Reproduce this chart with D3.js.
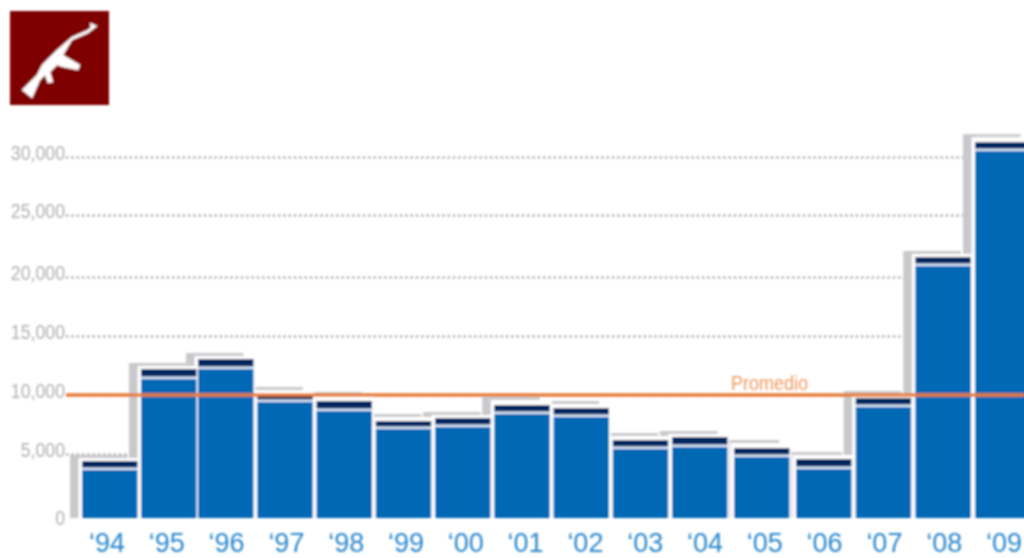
<!DOCTYPE html>
<html><head><meta charset="utf-8">
<style>html,body{margin:0;padding:0;background:#fff;overflow:hidden}svg{display:block}</style>
<script src="https://cdn.jsdelivr.net/npm/d3@7"></script></head>
<body><svg id="c" width="1024" height="558"></svg>
<script>
const years = ["‘94","‘95","‘96","‘97","‘98","‘99","‘00","‘01","‘02","‘03","‘04","‘05","‘06","‘07","‘08","‘09"];
const blueValues = [3750,11356,12203,9407,8644,7119,7288,8390,8136,5424,5593,4766,3828,8983,20887,30517];
const navyValues = [4450,12203,13051,10000,9492,7797,8051,9153,8898,6186,6441,5508,4609,9746,21613,31293];
const grayValues = [4920,12712,13559,10678,10254,8390,8559,9831,9492,6780,6949,6186,5169,10339,22097,31983];
const tickValues = [0,5000,10000,15000,20000,25000,30000];
const average = 10000;
const averageLabel = "Promedio";

const svg = d3.select("#c");
const defs = svg.append("defs");
defs.append("filter").attr("id","soft").attr("filterUnits","userSpaceOnUse").attr("x",0).attr("y",0).attr("width",1024).attr("height",558)
  .append("feGaussianBlur").attr("stdDeviation",0.95);
const root = svg.append("g").attr("filter","url(#soft)");

// the source's bars are not evenly spaced: the scale follows the columns
const xi = d3.scaleLinear().domain([0,1,2,10,11,12,15]).range([82,141,198,672,734,796,975]);
const x = d => xi(years.indexOf(d));
const barW = 55.5;
const xLabel = d3.scalePoint().domain(years).range([107,1004]);
const y = d3.scaleLinear().domain([0,5000,15000,20000,25000,30000,32000]).range([518,454,336,277,215,157,134]);

// y axis with dotted grid lines
const axis = d3.axisLeft(y).tickValues(tickValues).tickFormat(d3.format(",")).tickSize(0).tickPadding(1);
const ag = root.append("g").attr("transform","translate(66,0)").call(axis);
ag.select(".domain").remove();
ag.selectAll(".tick line").filter(d=>d>0).attr("x2",960).attr("stroke","#a0a0a0").attr("stroke-width",2).attr("stroke-dasharray","2.4 2.9");
ag.selectAll(".tick text").attr("dy",d=>d===0?"0.32em":"0.13em").attr("fill","#b0b0b0")
  .attr("font-family","'Liberation Sans'").attr("font-size",20)
  .each(function(){ d3.select(this).attr("textLength",this.getComputedTextLength()*0.885).attr("lengthAdjust","spacingAndGlyphs"); });

const idx = d3.range(years.length);
// gray offset silhouettes
root.append("g").selectAll("rect").data(idx).join("rect")
  .attr("x",i=>x(years[i])-12).attr("width",barW+2)
  .attr("y",i=>y(grayValues[i])).attr("height",i=>518-y(grayValues[i]))
  .attr("fill","#c9c9cc");
// white halo
root.append("g").selectAll("rect").data(idx).join("rect")
  .attr("x",i=>x(years[i])-3.5).attr("width",barW+5.5)
  .attr("y",i=>y(grayValues[i])+3).attr("height",i=>518-y(grayValues[i])-3)
  .attr("fill","#fff");
// pale gap under the navy strip
root.append("g").selectAll("rect").data(idx).join("rect")
  .attr("x",i=>x(years[i])).attr("width",barW)
  .attr("y",i=>y(blueValues[i])-3).attr("height",3.5)
  .attr("fill","#dbe9f7");
// navy strip
root.append("g").selectAll("rect").data(idx).join("rect")
  .attr("x",i=>x(years[i])).attr("width",barW)
  .attr("y",i=>y(navyValues[i])).attr("height",i=>y(blueValues[i])-y(navyValues[i])-2.5)
  .attr("fill","#002560");
// main bars
root.append("g").selectAll("rect").data(idx).join("rect")
  .attr("x",i=>x(years[i])).attr("width",barW)
  .attr("y",i=>y(blueValues[i])).attr("height",i=>518-y(blueValues[i]))
  .attr("fill","#0067b5");

// average line
root.append("line").attr("x1",66).attr("x2",1024).attr("y1",y(average)).attr("y2",y(average))
  .attr("stroke","#e87c34").attr("stroke-width",3.4);
root.append("text").attr("x",731).attr("y",390).text(averageLabel)
  .attr("fill","#f0995f").attr("font-family","'Liberation Sans'").attr("font-size",20)
  .attr("textLength",77).attr("lengthAdjust","spacingAndGlyphs");

// x labels
root.append("g").selectAll("text").data(years).join("text")
  .attr("x",d=>xLabel(d)).attr("y",552).attr("text-anchor","middle").text(d=>d)
  .attr("fill","#2b86cc").attr("font-family","'Liberation Sans'").attr("font-size",27);

// icon
const icon = root.append("g");
icon.append("rect").attr("x",10).attr("y",11).attr("width",99).attr("height",94).attr("fill","#7f0000");
icon.append("path").attr("fill","#fff").attr("stroke","#fff").attr("stroke-width",0.5).attr("stroke-linejoin","round")
  .attr("d","M90 23L97 26L88 33L72 40L63 55L80 65L78 70L63 67L57 65L50 72L53 82L48 83L45 75L40 80L32 98L22 90L37 75L42 65L57 50L72 37L88 30L91 27Z");
</script></body></html>
